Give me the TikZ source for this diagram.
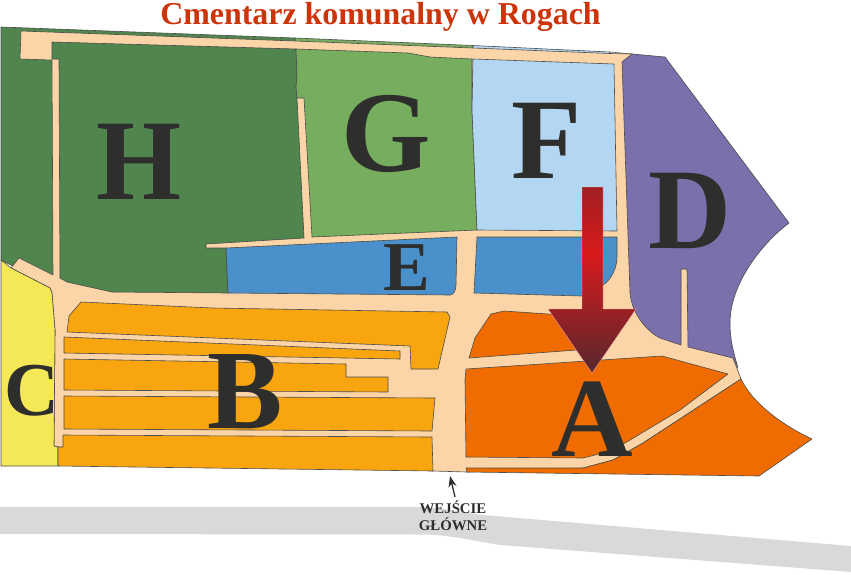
\documentclass[tikz,border=0pt]{standalone}
\usepackage{fontspec}
\setmainfont{Liberation Serif}
\usetikzlibrary{arrows.meta}
\definecolor{roadc}{HTML}{FBD4A7}
\definecolor{hc}{HTML}{50864E}
\definecolor{gc}{HTML}{76AD5E}
\definecolor{fc}{HTML}{B3D7F3}
\definecolor{ec}{HTML}{4A91CB}
\definecolor{dc}{HTML}{7B70AC}
\definecolor{cc}{HTML}{F4E857}
\definecolor{bc}{HTML}{F8A50F}
\definecolor{ac}{HTML}{F06C00}
\definecolor{inkc}{HTML}{2E2E2C}
\definecolor{streetc}{HTML}{D8DADA}
\definecolor{titlec}{HTML}{CC340A}
\definecolor{tipc}{HTML}{56282F}
\definecolor{midc}{HTML}{D81A1B}
\definecolor{topc}{HTML}{A01F22}
\pgfdeclareverticalshading{bigarrowshade}{100bp}{
 color(0bp)=(tipc); color(25bp)=(tipc); color(57bp)=(midc); color(75bp)=(topc); color(100bp)=(topc)}
\tikzset{
 lot/.style={draw=inkc!85,line width=0.6pt,line join=round},
 big/.style={anchor=base,inner sep=0pt,text=inkc,font=\bfseries\fontsize{#1}{#1}\selectfont},
 big/.default=115,
 gatetext/.style={anchor=base,inner sep=0pt,text=inkc,font=\bfseries\fontsize{14.8}{14.8}\selectfont}
}
\begin{document}
\begin{tikzpicture}[x=1pt,y=-1pt]
\useasboundingbox (0,0) rectangle (851,574);
% street
\fill[streetc] (0,507) -- (420,507) .. controls (445,508) and (460,512) .. (483,515) -- (851,546) -- (851,572) -- (500,545) .. controls (475,541) and (450,535) .. (425,534.5) -- (0,534) -- cycle;
% base strips
\path[lot,fill=hc] (1,27) -- (295,38) -- (295,60) -- (60,60) -- (60,290) -- (1,260) -- cycle;
\path[lot,fill=gc] (295,38) -- (473,45.5) -- (473,52) -- (295,45) -- cycle;
\path[lot,fill=fc] (473,45.5) -- (610,52) -- (610,56) -- (473,50) -- cycle;
\draw[lot] (610,52) -- (632,54);
% road network
\path[lot,fill=roadc] (21,31) -- (295,41) -- (473,48) -- (610,53.5) -- (632,54) -- (665,62) -- (770,225) -- (735,260) -- (715,323) -- (733,358) -- (741,379)
 -- (643,443) -- (613,460) -- (583,468) -- (467,472) -- (433,471) -- (58,447) -- (54,446) -- (55,330) -- (52,293) -- (50,288)
 -- (11,268) -- (19,258) -- (53,275) -- (52,60) -- (20,59) -- cycle;
% H
\path[lot,fill=hc] (52,42) -- (296,49) -- (297,77) -- (296,87) -- (297,98) -- (304,238) -- (206,244) -- (206,248) -- (226,248)
 -- (228,293) -- (112,292) -- (67,282) -- (60,278) -- (59,59) -- (52,59) -- cycle;
% G
\path[lot,fill=gc] (296,49) -- (408,53) -- (430,57) -- (472,59) -- (472,110) -- (477,230) -- (312,237) -- (304,98) -- (297,98)
 -- (296,87) -- (297,77) -- cycle;
% F
\path[lot,fill=fc] (473,59) -- (614,64) -- (617,231) -- (477,230) -- (472,110) -- cycle;
% E
\path[lot,fill=ec] (226,248) -- (457,237) -- (456,285) .. controls (456,291) and (453,295) .. (450,295) -- (228,293) -- cycle;
\path[lot,fill=ec] (477,237) -- (617,237) -- (617,257) .. controls (617,268) and (611,280) .. (603,285) -- (581,296) -- (474,293) -- cycle;
% D
\path[lot,fill=dc] (632,54) -- (665,57) -- (789,223) .. controls (760,245) and (730,285) .. (730,323)
 .. controls (730,340) and (733,350) .. (738,368) -- (733,358) -- (688,347) -- (687,269) -- (681,269) -- (681,345) -- (660,338)
 .. controls (648,332) and (632,315) .. (630,293) -- (622,62) -- cycle;
% C
\path[lot,fill=cc] (1,260) -- (11,268) -- (50,288) -- (52,293) -- (55,330) -- (54,446) -- (58,447) -- (58,466) -- (1,466) -- cycle;
% B
\path[lot,fill=bc] (81,302) -- (213,308) -- (447,312) -- (450,317) -- (438,369) -- (411,369) -- (410,346) -- (67,332) -- (69,316) -- cycle;
\path[lot,fill=bc] (64,337) -- (400,351) -- (400,359) -- (64,353) -- cycle;
\path[lot,fill=bc] (64,359) -- (346,364) -- (346,377) -- (388,377) -- (388,392) -- (64,390) -- cycle;
\path[lot,fill=bc] (64,396) -- (435,398) -- (432,431) -- (64,429) -- cycle;
\path[lot,fill=bc] (63,435) -- (432,437) -- (433,471) -- (58,466) -- (58,447) -- (63,447) -- cycle;
% A
\path[lot,fill=ac] (469,358) -- (475,338) -- (491,314) -- (504,311) -- (548,314) -- (575,316) -- (590,349) -- cycle;
\path[lot,fill=ac] (466,369) -- (662,356) -- (728,374) -- (680,410) -- (625,443) -- (603,453) -- (583,458) -- (466,457) -- (465,380) -- cycle;
\path[lot,fill=ac] (466,468) -- (583,468) -- (613,460) -- (643,443) -- (741,379) .. controls (752,402) and (780,424) .. (812,439)
 -- (759,476) -- (467,472) -- cycle;
% big arrow
\shade[shading=bigarrowshade,draw=white!70!red,line width=0.3pt] (582,187) -- (603,187) -- (603,309) -- (636,309) -- (592,373) -- (548,309) -- (582,309) -- cycle;
% letters
\node[big=115] (lh) at (139,199) {\scalebox{0.95}[1]{H}};
\node[big=115] (lg) at (386,171) {G};
\node[big=115] (lf) at (547,178) {F};
\node[big=115] (ld) at (690,248) {D};
\node[big=70] (le) at (407,290) {E};
\node[big=113] (lb) at (245,428) {B};
\node[big=76] (lc) at (32,415) {C};
\node[big=113] (la) at (592,456) {A};
% title
\node[anchor=base,inner sep=0pt,text=titlec,font=\bfseries\fontsize{31.9}{31.9}\selectfont] (title) at (380.5,24) {Cmentarz komunalny w Rogach};
% entrance
\node[gatetext] (wej) at (453,513) {WEJŚCIE};
\node[gatetext] (glo) at (453,530) {GŁÓWNE};
\coordinate (gate) at (450,476);
\coordinate (gatefoot) at (455,497);
\draw[inkc,line width=1.3pt,-{Stealth[length=11pt,width=8pt]}] (gatefoot) -- (gate);
\end{tikzpicture}
\end{document}
